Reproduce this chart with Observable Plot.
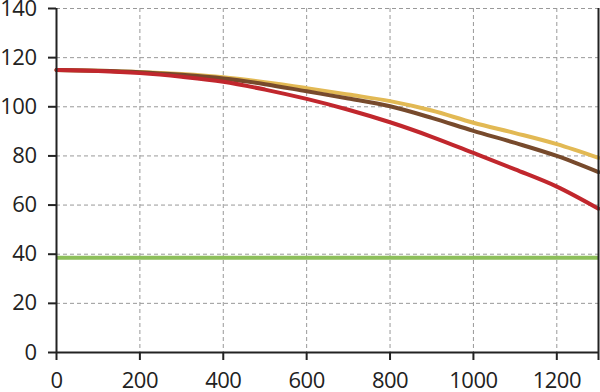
<!DOCTYPE html>
<html>
<head>
<meta charset="utf-8">
<script src="https://cdn.jsdelivr.net/npm/d3@7"></script>
<script src="https://cdn.jsdelivr.net/npm/@observablehq/plot@0.6"></script>
<style>
  html, body { margin: 0; padding: 0; background: #fff; }
  #chart svg { display: block; }
</style>
</head>
<body>
<div id="chart"></div>
<script>
const xValues = [0, 100, 200, 300, 400, 500, 600, 700, 800, 900, 1000, 1100, 1200, 1300];
const yellowSeries = [115, 114.7, 114.2, 113.3, 112, 110, 107.6, 105, 102.3, 98.5, 93.5, 89.3, 84.8, 79.2];
const brownSeries  = [115, 114.7, 114.1, 113, 111.5, 109.2, 106.3, 103.4, 100.2, 95.5, 90.2, 85.3, 80, 73.4];
const redSeries    = [115, 114.6, 113.7, 112.2, 110.2, 107, 103.2, 98.8, 93.7, 87.8, 81.2, 74.5, 67.5, 58.5];
const greenLevel = 38.6;
const xTicks = [0, 200, 400, 600, 800, 1000, 1200];
const yTicks = [0, 20, 40, 60, 80, 100, 120, 140];

const series = [
  {name: "yellow", color: "#e2b954", values: yellowSeries},
  {name: "brown", color: "#774a2c", values: brownSeries},
  {name: "red", color: "#c1272d", values: redSeries}
];
const rows = series.flatMap(s => s.values.map((v, i) => ({x: xValues[i], y: v, name: s.name})));
const colorMap = Object.fromEntries(series.map(s => [s.name, s.color]));

const chart = Plot.plot({
  width: 600,
  height: 392,
  marginLeft: 56,
  marginRight: 2,
  marginTop: 8,
  marginBottom: 40,
  style: {fontFamily: "'Open Sans', sans-serif", fontSize: "22px", color: "#222", letterSpacing: "-0.5px"},
  x: {domain: [0, 1300], ticks: xTicks, tickSize: 8, tickPadding: 12, label: null, tickFormat: d => String(d)},
  y: {domain: [0, 140], ticks: yTicks, tickSize: 8, tickPadding: 12, label: null},
  marks: [
    Plot.gridX(xTicks.filter(d => d > 0), {stroke: "#999", strokeOpacity: 1, strokeDasharray: "4,3", strokeWidth: 1}),
    Plot.gridY(yTicks.filter(d => d > 0), {stroke: "#999", strokeOpacity: 1, strokeDasharray: "4,3", strokeWidth: 1}),
    Plot.ruleY([greenLevel], {stroke: "#8dbf5a", strokeWidth: 4}),
    Plot.line(rows, {x: "x", y: "y", z: "name", stroke: d => colorMap[d.name], strokeWidth: 4, curve: "monotone-x"}),
    Plot.axisX({ticks: xTicks, tickSize: 8, tickPadding: 12, strokeWidth: 2, stroke: "#222", label: null, tickFormat: d => String(d)}),
    Plot.axisY({ticks: yTicks, tickSize: 8, tickPadding: 12, strokeWidth: 2, stroke: "#222", label: null}),
    Plot.ruleY([0], {stroke: "#222", strokeWidth: 2}),
    Plot.ruleX([0], {stroke: "#222", strokeWidth: 2}),
    Plot.ruleX([1300], {stroke: "#222", strokeWidth: 2, insetBottom: -8})
  ]
});
document.getElementById("chart").appendChild(chart);
</script>
</body>
</html>
